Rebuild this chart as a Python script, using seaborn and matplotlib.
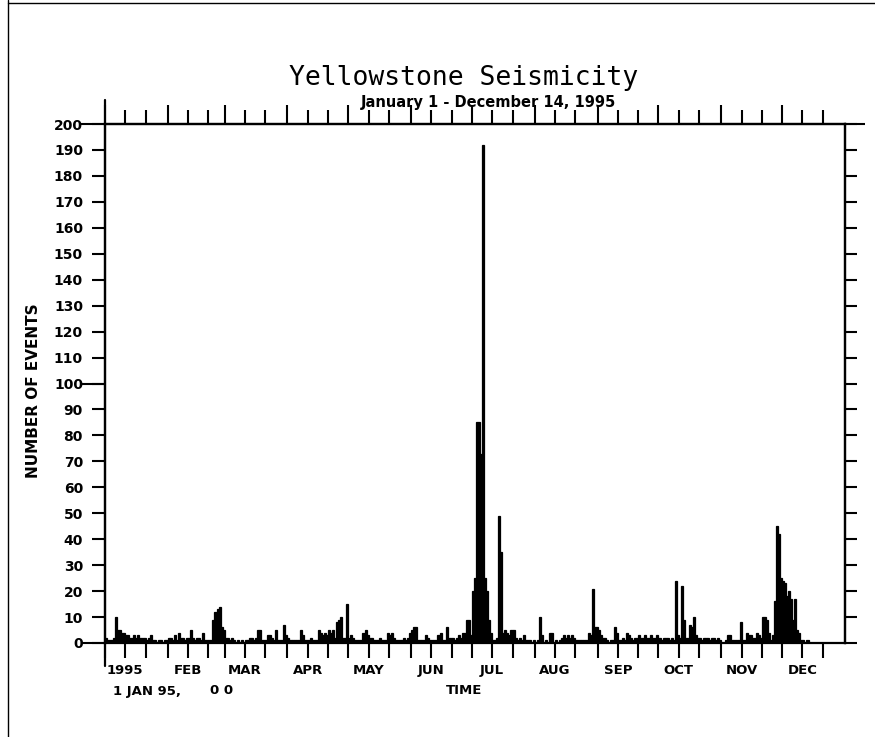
import numpy as np
import pandas as pd
import matplotlib
matplotlib.use("Agg")
import matplotlib.pyplot as plt
import matplotlib.ticker as mticker
import seaborn as sns

# ---------------- data (daily event counts, 1995) ----------------
year = 1995
month_labels = ["1995", "FEB", "MAR", "APR", "MAY", "JUN",
                "JUL", "AUG", "SEP", "OCT", "NOV", "DEC"]
jan = [2, 1, 1, 1, 2, 10, 5, 5, 4, 4, 3, 3, 2, 2, 3, 2, 3, 2, 2, 2,
       1, 2, 3, 1, 1, 0, 1, 1, 0, 1, 1]
feb = [2, 2, 1, 3, 1, 4, 2, 2, 1, 2, 2, 5, 2, 1, 2, 2, 1, 4, 1, 1,
       1, 1, 9, 12, 13, 14, 6, 5]
mar = [2, 2, 1, 2, 1, 0, 1, 0, 1, 0, 1, 1, 2, 2, 1, 2, 5, 5, 1, 1,
       1, 3, 3, 2, 1, 5, 1, 1, 1, 7, 3]
apr = [2, 1, 1, 1, 1, 1, 5, 3, 1, 1, 1, 2, 1, 1, 1, 5, 4, 3, 4, 3,
       5, 4, 5, 2, 8, 9, 10, 2, 2, 15]
may = [2, 3, 2, 1, 1, 1, 1, 4, 5, 3, 2, 2, 1, 1, 1, 2, 1, 1, 1, 4,
       3, 4, 2, 1, 1, 1, 1, 2, 1, 2, 4]
jun = [5, 6, 6, 1, 1, 1, 1, 3, 2, 1, 1, 1, 1, 3, 4, 1, 1, 6, 2, 2,
       2, 1, 2, 3, 2, 4, 4, 9, 9, 3]
jul = [20, 25, 85, 85, 73, 192, 25, 20, 9, 4, 1, 1, 2, 49, 35, 4, 5, 4, 3, 5,
       5, 2, 1, 2, 1, 3, 1, 1, 1, 0, 1]
aug = [0, 1, 10, 3, 0, 1, 0, 4, 4, 0, 1, 0, 1, 2, 3, 2, 3, 2, 3, 2,
       1, 1, 1, 1, 1, 1, 4, 3, 21, 6, 6]
sep = [5, 3, 2, 2, 1, 0, 1, 1, 6, 4, 1, 1, 2, 1, 4, 3, 2, 1, 2, 2,
       3, 2, 2, 3, 2, 2, 3, 2, 2, 3]
oct_ = [2, 1, 2, 2, 2, 1, 2, 1, 24, 3, 2, 22, 9, 2, 2, 7, 6, 10, 3, 2,
        2, 1, 2, 2, 2, 1, 2, 2, 1, 2, 1]
nov = [0, 0, 1, 3, 3, 1, 1, 1, 1, 8, 1, 1, 4, 3, 3, 2, 2, 4, 3, 2,
       10, 10, 9, 4, 1, 3, 16, 45, 42, 25]
dec = [24, 23, 18, 20, 17, 9, 17, 5, 4, 1, 1, 0, 1, 0]

daily_events = jan + feb + mar + apr + may + jun + jul + aug + sep + oct_ + nov + dec
y_ticks = list(range(0, 201, 10))

# ---------------- derived positions ----------------
start = pd.Timestamp(year=year, month=1, day=1)
dates = pd.date_range(start, periods=len(daily_events), freq="D")
df = pd.DataFrame({"day": (dates - start).days.astype(float), "events": daily_events})
year_len = (pd.Timestamp(year=year + 1, month=1, day=1) - start).days
month_starts = [(pd.Timestamp(year=year, month=m, day=1) - start).days for m in range(1, 13)]
month_11 = [d + 10 for d in month_starts]
month_21 = [d + 20 for d in month_starts]

# ---------------- figure ----------------
sns.set_theme(style="ticks")
plt.rcParams["font.family"] = ["DejaVu Sans"]
plt.rcParams["axes.linewidth"] = 1.6
plt.rcParams["axes.edgecolor"] = "black"

W, H = 875, 737
fig = plt.figure(figsize=(W / 100, H / 100), dpi=100)
fig.patch.set_facecolor("white")
L, R, T, B = 105, 845, 124, 643
ax = fig.add_axes([L / W, 1 - B / H, (R - L) / W, (B - T) / H])

sns.histplot(data=df, x="day", weights="events", binwidth=1,
             binrange=(0, len(daily_events)), color="black",
             edgecolor="black", linewidth=0.9, alpha=1, ax=ax)

ax.set_xlim(0, year_len)
ax.set_ylim(0, 200)
for s in ax.spines.values():
    s.set_visible(True)
    s.set_color("black")
    s.set_linewidth(1.6)

# y axis (left)
px = 72 / 100  # points per pixel
ax.yaxis.remove_overlapping_locs = False
ax.set_yticks(y_ticks)
ax.yaxis.set_minor_locator(mticker.FixedLocator([0, 100, 200]))
ax.tick_params(axis="y", which="major", direction="out", length=13 * px,
               width=1.5, color="black", pad=9 * px, labelsize=10)
ax.tick_params(axis="y", which="minor", direction="out", length=24 * px,
               width=1.5, color="black")
for t in ax.get_yticklabels():
    t.set_fontweight("bold")
    t.set_color("black")

# x axis (bottom)
ax.xaxis.remove_overlapping_locs = False
ax.set_xticks(month_11)
ax.set_xticklabels(month_labels)
ax.xaxis.set_minor_locator(mticker.FixedLocator(month_starts + month_21))
ax.tick_params(axis="x", which="both", direction="out", length=15 * px,
               width=1.5, color="black")
ax.tick_params(axis="x", which="major", pad=6 * px, labelsize=9.5)
for t in ax.get_xticklabels():
    t.set_fontweight("bold")
    t.set_color("black")

# top ticks
top = ax.secondary_xaxis("top")
top.set_xticks(month_starts)
top.set_xticklabels([])
top.xaxis.set_minor_locator(mticker.FixedLocator(month_11 + month_21))
top.tick_params(axis="x", which="major", direction="out", length=19 * px, width=1.5, color="black")
top.tick_params(axis="x", which="minor", direction="out", length=14 * px, width=1.5, color="black")
top.spines["top"].set_linewidth(1.6)

# right ticks
right = ax.secondary_yaxis("right")
right.set_yticks(y_ticks)
right.set_yticklabels([])
right.yaxis.remove_overlapping_locs = False
right.yaxis.set_minor_locator(mticker.FixedLocator([200]))
right.tick_params(axis="y", which="major", direction="out", length=12 * px, width=1.5, color="black")
right.tick_params(axis="y", which="minor", direction="out", length=20 * px, width=1.5, color="black")
right.spines["right"].set_linewidth(1.6)

# extended Jan-1 axis line
ax.plot([0, 0], [-0.045, 1.047], transform=ax.get_xaxis_transform(),
        clip_on=False, color="black", lw=1.6)

ax.set_xlabel("")
ax.set_ylabel("NUMBER OF EVENTS", fontsize=11, fontweight="bold", color="black")
ax.yaxis.set_label_coords((41 - L) / (R - L), 0.487)

# texts below axis
fig.text(464 / W, 1 - 691 / H, "TIME", ha="center", va="center",
         fontsize=9.5, fontweight="bold", color="black")
fig.text(113 / W, 1 - 691 / H, "1 JAN 95,", ha="left", va="center",
         fontsize=9.5, fontweight="bold", color="black")
fig.text(210 / W, 1 - 691 / H, "0 0", ha="left", va="center",
         fontsize=9.5, fontweight="bold", color="black")

# titles
fig.text(464 / W, 1 - 78 / H, "Yellowstone Seismicity", ha="center", va="center",
         fontsize=19, family="DejaVu Sans Mono", color="black")
fig.text(488 / W, 1 - 102 / H, "January 1 - December 14, 1995", ha="center",
         va="center", fontsize=10.5, fontweight="bold", color="black")

# scan frame edges
fig.add_artist(plt.Line2D([8 / W, 8 / W], [0, 1], color="black", lw=1))
fig.add_artist(plt.Line2D([8 / W, 1], [1 - 3 / H, 1 - 3 / H], color="black", lw=1))

fig.savefig("out.png", dpi=100, facecolor="white")
